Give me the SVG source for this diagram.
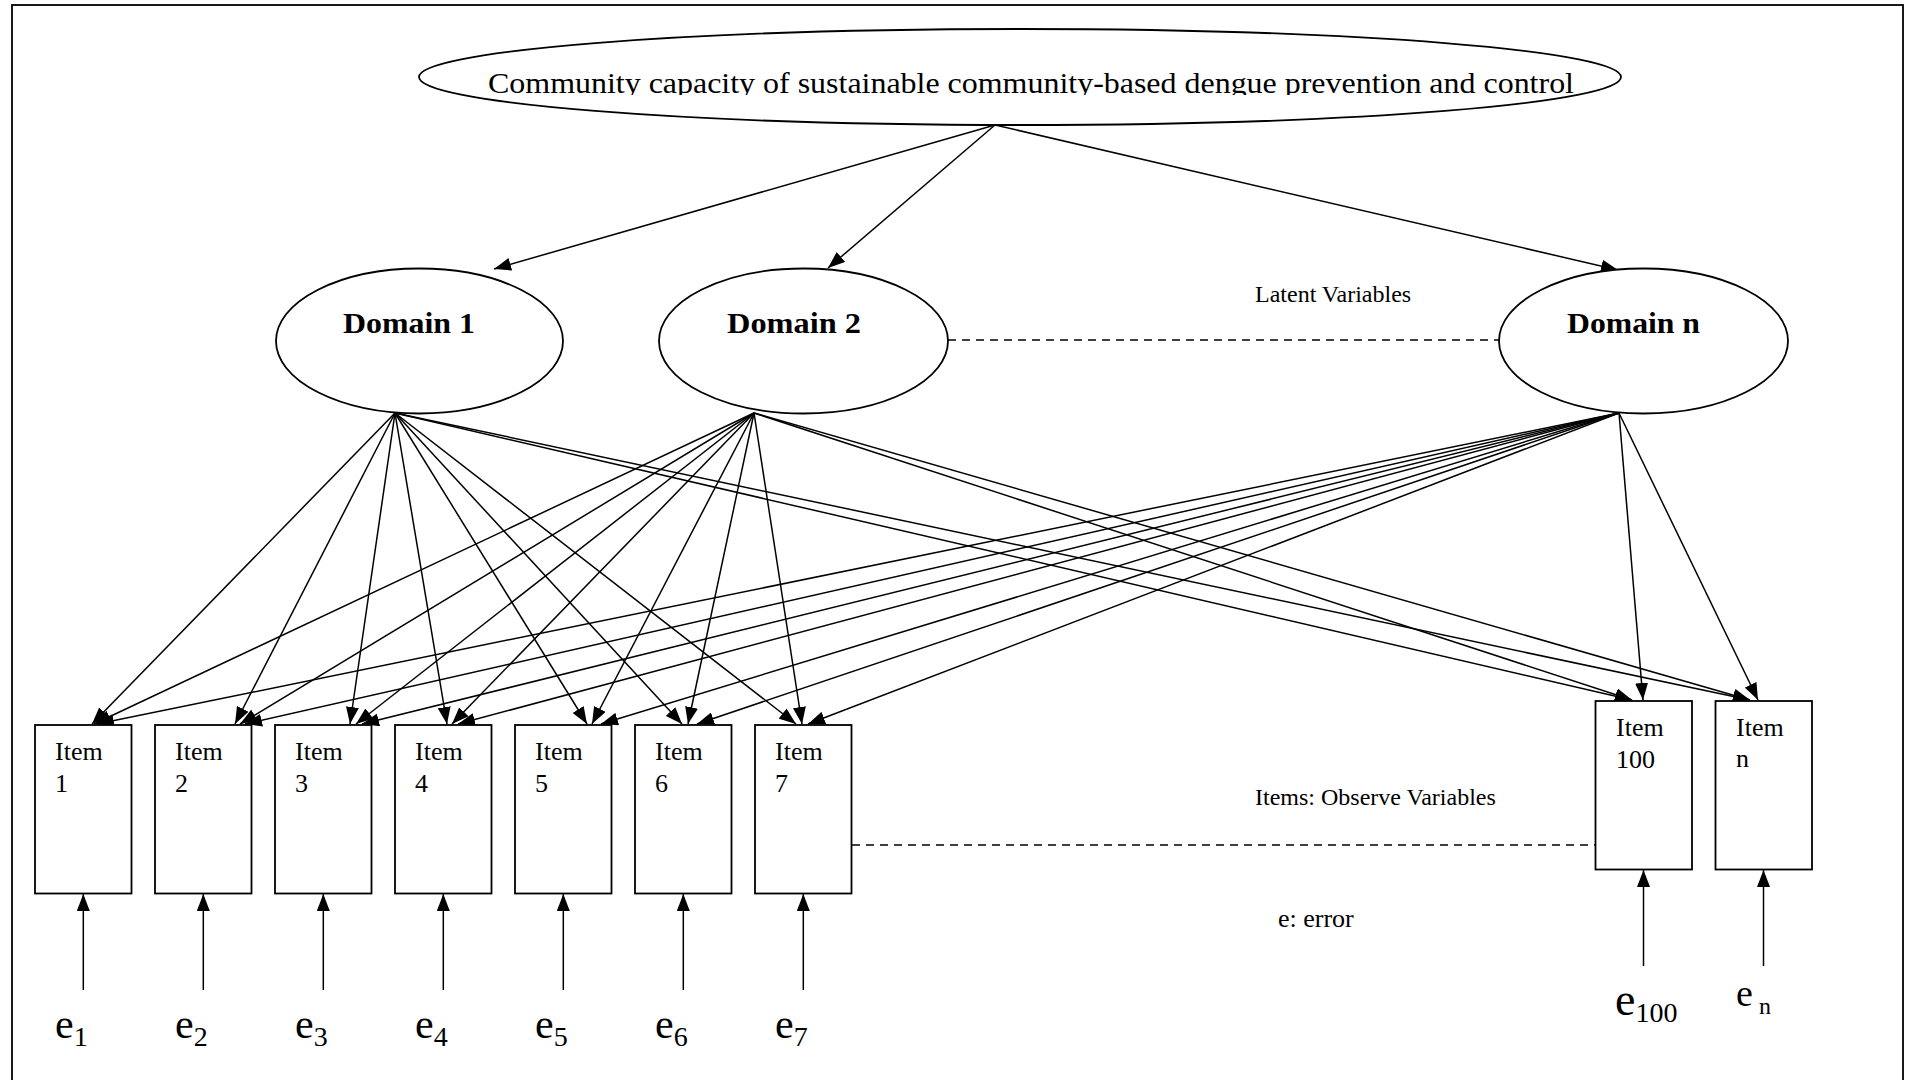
<svg xmlns="http://www.w3.org/2000/svg" width="1908" height="1080" viewBox="0 0 1908 1080">
<style>
.shape{fill:#fff;stroke:#000;stroke-width:1.8}
.c{stroke:#000;stroke-width:1.5;fill:none;marker-end:url(#ah)}
.d{stroke:#000;stroke-width:1.5;fill:none;stroke-dasharray:8 6}
text{font-family:"Liberation Serif","Times New Roman",serif;fill:#000}
.dom{font-size:30px;font-weight:bold}
.item{font-size:26px}
.lbl{font-size:24px}
.e{font-size:42px}
.sub{font-size:28px}
</style>
<defs>
<marker id="ah" viewBox="0 0 17 13" refX="17" refY="6.5" markerWidth="17" markerHeight="13" markerUnits="userSpaceOnUse" orient="auto">
<path d="M0,0 L17,6.5 L0,13 z" fill="#000"/>
</marker>
<clipPath id="titleclip"><rect x="420" y="30" width="1200" height="65"/></clipPath>
</defs>
<rect x="0" y="0" width="1908" height="1080" fill="#fff"/>
<rect x="12" y="5" width="1891" height="1090" fill="none" stroke="#000" stroke-width="1.8"/>

<g id="connectors">
<line class="c" x1="995" y1="125" x2="494" y2="269"/>
<line class="c" x1="995" y1="125" x2="828" y2="268"/>
<line class="c" x1="995" y1="125" x2="1618" y2="270"/>
<line class="d" x1="948" y1="340" x2="1499" y2="340"/>
<line class="d" x1="852" y1="845" x2="1596" y2="845"/>
<!-- Domain 1 -->
<line class="c" x1="395" y1="413" x2="92" y2="724"/>
<line class="c" x1="395" y1="413" x2="235" y2="724"/>
<line class="c" x1="395" y1="413" x2="350" y2="724"/>
<line class="c" x1="395" y1="413" x2="447" y2="724"/>
<line class="c" x1="395" y1="413" x2="587" y2="724"/>
<line class="c" x1="395" y1="413" x2="682" y2="724"/>
<line class="c" x1="395" y1="413" x2="796" y2="724"/>
<line class="c" x1="395" y1="413" x2="1632" y2="700"/>
<line class="c" x1="395" y1="413" x2="1750" y2="700"/>
<!-- Domain 2 -->
<line class="c" x1="754" y1="413" x2="94" y2="724"/>
<line class="c" x1="754" y1="413" x2="240" y2="724"/>
<line class="c" x1="754" y1="413" x2="356" y2="724"/>
<line class="c" x1="754" y1="413" x2="452" y2="724"/>
<line class="c" x1="754" y1="413" x2="592" y2="724"/>
<line class="c" x1="754" y1="413" x2="688" y2="724"/>
<line class="c" x1="754" y1="413" x2="802" y2="724"/>
<line class="c" x1="754" y1="413" x2="1632" y2="700"/>
<line class="c" x1="754" y1="413" x2="1750" y2="700"/>
<!-- Domain n -->
<line class="c" x1="1619" y1="413" x2="97" y2="724"/>
<line class="c" x1="1619" y1="413" x2="245" y2="724"/>
<line class="c" x1="1619" y1="413" x2="362" y2="724"/>
<line class="c" x1="1619" y1="413" x2="458" y2="724"/>
<line class="c" x1="1619" y1="413" x2="601" y2="724"/>
<line class="c" x1="1619" y1="413" x2="697" y2="724"/>
<line class="c" x1="1619" y1="413" x2="808" y2="724"/>
<line class="c" x1="1619" y1="413" x2="1643" y2="700"/>
<line class="c" x1="1619" y1="413" x2="1758" y2="700"/>
<!-- errors -->
<line class="c" x1="83.3" y1="990" x2="83.3" y2="894"/>
<line class="c" x1="203.3" y1="990" x2="203.3" y2="894"/>
<line class="c" x1="323.3" y1="990" x2="323.3" y2="894"/>
<line class="c" x1="443.3" y1="990" x2="443.3" y2="894"/>
<line class="c" x1="563.3" y1="990" x2="563.3" y2="894"/>
<line class="c" x1="683.3" y1="990" x2="683.3" y2="894"/>
<line class="c" x1="803.3" y1="990" x2="803.3" y2="894"/>
<line class="c" x1="1643.5" y1="966" x2="1643.5" y2="870"/>
<line class="c" x1="1763.5" y1="966" x2="1763.5" y2="870"/>
</g>

<g id="root">
<ellipse class="shape" cx="1020" cy="77" rx="601" ry="48"/>
<text x="488" y="93" font-size="30" textLength="1086" lengthAdjust="spacingAndGlyphs" clip-path="url(#titleclip)">Community capacity of sustainable community-based dengue prevention and control</text>
</g>

<g id="domain1">
<ellipse class="shape" cx="419.5" cy="341" rx="143.5" ry="72.5"/>
<text class="dom" x="343" y="333" textLength="132" lengthAdjust="spacingAndGlyphs">Domain 1</text>
</g>
<g id="domain2">
<ellipse class="shape" cx="803.5" cy="341" rx="144.5" ry="72.5"/>
<text class="dom" x="727" y="333" textLength="134" lengthAdjust="spacingAndGlyphs">Domain 2</text>
</g>
<g id="domainn">
<ellipse class="shape" cx="1643.5" cy="341" rx="144.5" ry="72.5"/>
<text class="dom" x="1567" y="333" textLength="133" lengthAdjust="spacingAndGlyphs">Domain n</text>
</g>

<g id="item1"><rect class="shape" x="35" y="725" width="96.5" height="168.5"/><text class="item" x="55" y="760">Item</text><text class="item" x="55" y="792">1</text></g>
<g id="item2"><rect class="shape" x="155" y="725" width="96.5" height="168.5"/><text class="item" x="175" y="760">Item</text><text class="item" x="175" y="792">2</text></g>
<g id="item3"><rect class="shape" x="275" y="725" width="96.5" height="168.5"/><text class="item" x="295" y="760">Item</text><text class="item" x="295" y="792">3</text></g>
<g id="item4"><rect class="shape" x="395" y="725" width="96.5" height="168.5"/><text class="item" x="415" y="760">Item</text><text class="item" x="415" y="792">4</text></g>
<g id="item5"><rect class="shape" x="515" y="725" width="96.5" height="168.5"/><text class="item" x="535" y="760">Item</text><text class="item" x="535" y="792">5</text></g>
<g id="item6"><rect class="shape" x="635" y="725" width="96.5" height="168.5"/><text class="item" x="655" y="760">Item</text><text class="item" x="655" y="792">6</text></g>
<g id="item7"><rect class="shape" x="755" y="725" width="96.5" height="168.5"/><text class="item" x="775" y="760">Item</text><text class="item" x="775" y="792">7</text></g>
<g id="item100"><rect class="shape" x="1595.5" y="701" width="96.5" height="168.5"/><text class="item" x="1616" y="736">Item</text><text class="item" x="1616" y="768">100</text></g>
<g id="itemn"><rect class="shape" x="1715.5" y="701" width="96.5" height="168.5"/><text class="item" x="1736" y="736">Item</text><text class="item" x="1736" y="767">n</text></g>

<g id="errors">
<text class="e" x="55" y="1038">e<tspan class="sub" dy="8">1</tspan></text>
<text class="e" x="175" y="1038">e<tspan class="sub" dy="8">2</tspan></text>
<text class="e" x="295" y="1038">e<tspan class="sub" dy="8">3</tspan></text>
<text class="e" x="415" y="1038">e<tspan class="sub" dy="8">4</tspan></text>
<text class="e" x="535" y="1038">e<tspan class="sub" dy="8">5</tspan></text>
<text class="e" x="655" y="1038">e<tspan class="sub" dy="8">6</tspan></text>
<text class="e" x="775" y="1038">e<tspan class="sub" dy="8">7</tspan></text>
<text x="1615" y="1015" font-size="46">e<tspan class="sub" dy="7">100</tspan></text>
<text x="1736" y="1006" font-size="38">e<tspan font-size="24" dy="8"> n</tspan></text>
</g>

<g id="labels">
<text class="lbl" x="1255" y="302">Latent Variables</text>
<text class="lbl" x="1255" y="805">Items: Observe Variables</text>
<text x="1278" y="927" font-size="26">e: error</text>
</g>
</svg>
